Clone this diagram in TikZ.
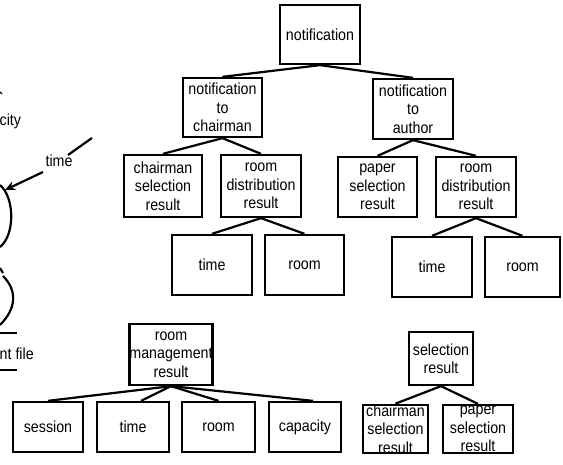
\documentclass[tikz,border=0pt]{standalone}
\usepackage{fontspec}
\setmainfont{Liberation Sans}[FakeStretch=0.89]
\usetikzlibrary{arrows.meta}
\begin{document}
\begin{tikzpicture}[x=1pt,y=-1pt,
  box/.style={draw, line width=2.3pt, inner sep=0pt, align=center,
    font=\fontsize{16}{18.3}\selectfont},
  link/.style={line width=2.2pt},
  lbl/.style={inner sep=0pt, font=\fontsize{16}{18.3}\selectfont}]
\useasboundingbox (0,0) rectangle (563,465);

% notification tree
\node[box, minimum width=80pt, minimum height=59pt] (notif) at (320,34.5) {notification};
\node[box, minimum width=79pt, minimum height=59pt] (nchair) at (222.5,107.5) {notification\\to\\chairman};
\node[box, minimum width=80pt, minimum height=60pt] (nauth) at (413,109) {notification\\to\\author};
\node[box, minimum width=78pt, minimum height=62pt] (csel) at (163,186) {chairman\\selection\\result};
\node[box, minimum width=80pt, minimum height=62pt] (rdl) at (261,186) {room\\distribution\\result};
\node[box, minimum width=79pt, minimum height=60pt] (psel) at (377.5,187) {paper\\selection\\result};
\node[box, minimum width=80pt, minimum height=60pt] (rdr) at (476,187) {room\\distribution\\result};
\node[box, minimum width=80pt, minimum height=60pt] (timel) at (212,265) {time};
\node[box, minimum width=79pt, minimum height=60pt] (rooml) at (304.5,265) {room};
\node[box, minimum width=80pt, minimum height=60pt] (timer) at (432,267) {time};
\node[box, minimum width=75pt, minimum height=60pt] (roomr) at (522.5,267) {room};

\draw[link] (notif.south) -- (nchair.north);
\draw[link] (notif.south) -- (nauth.north);
\draw[link] (nchair.south) -- (csel.north);
\draw[link] (nchair.south) -- (rdl.north);
\draw[link] (nauth.south) -- (psel.north);
\draw[link] (nauth.south) -- (rdr.north);
\draw[link] (rdl.south) -- (timel.north);
\draw[link] (rdl.south) -- (rooml.north);
\draw[link] (rdr.south) -- (timer.north);
\draw[link] (rdr.south) -- (roomr.north);

% room management result tree
\node[box, minimum width=66pt, minimum height=61pt] (rmr) at (171,354.5) {room\\management\\result};
\node[box, minimum width=70pt, minimum height=50pt] (session) at (48,427) {session};
\node[box, minimum width=72pt, minimum height=50pt] (time3) at (133,427) {time};
\node[box, minimum width=73pt, minimum height=50pt] (room3) at (218.5,427) {room};
\node[box, minimum width=72pt, minimum height=50pt] (capacity) at (305,427) {capacity};
\draw[link] (rmr.south) -- (session.north);
\draw[link] (rmr.south) -- ([xshift=8pt]time3.north);
\draw[link] (rmr.south) -- (room3.north);
\draw[link] (rmr.south) -- ([xshift=8pt]capacity.north);

% selection result tree
\node[box, minimum width=64pt, minimum height=53pt] (selres) at (441,358.5) {selection\\result};
\node[box, minimum width=65pt, minimum height=48pt] (csel2) at (395.5,429) {chairman\\selection\\result};
\node[box, minimum width=70pt, minimum height=48pt] (psel2) at (478,429) {paper\\selection\\result};
\draw[link] (selres.south) -- (csel2.north);
\draw[link] (selres.south) -- (psel2.north);

% fragment of the neighbouring figure at the left edge
\node[lbl, anchor=west] (cityfrag) at (-0.5,121) {city};
\draw[line width=1.2pt] (0,92) -- (2,94);
\node[lbl] (timefrag) at (59,161) {time};
\draw[link] (68,155) -- (92,138);
\coordinate (arrowtail) at (43,172);
\coordinate (arrowhead) at (5,190);
\draw[link, -{Stealth[length=10pt,width=9pt]}] (arrowtail) -- (arrowhead);
\draw[link] (0,185) .. controls (15,198) and (15,235) .. (0,247);
\draw[link] (0,268) -- (3,273);
\draw[link] (3,276) .. controls (17,290) and (17,308) .. (0,325);
\draw[link] (0,333) -- (17,333);
\draw[link] (0,370) -- (17,370);
\node[lbl, anchor=west] (filefrag) at (-0.5,354) {nt file};
\end{tikzpicture}
\end{document}
